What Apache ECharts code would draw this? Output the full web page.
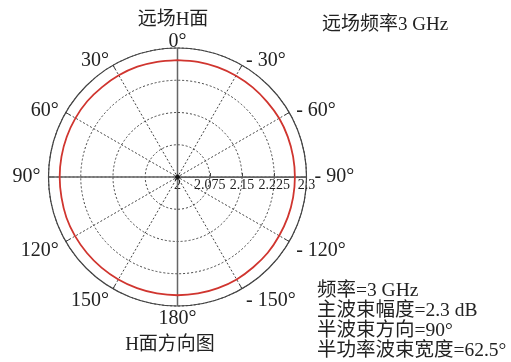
<!DOCTYPE html>
<html>
<head>
<meta charset="utf-8">
<style>
  html, body { margin: 0; padding: 0; background: #fff; }
  #chart { width: 511px; height: 362px; }
</style>
<script src="https://cdn.jsdelivr.net/npm/echarts@6/dist/echarts.min.js"></script>
</head>
<body>
<div id="chart"></div>
<script>
// Pattern angles in degrees (0 = top, positive counter-clockwise) and gain values
const patternAngles = [0, 10, 20, 30, 40, 50, 60, 70, 80, 90, 100, 110, 120, 130, 140, 150, 160, 170, 180,
  -170, -160, -150, -140, -130, -120, -110, -100, -90, -80, -70, -60, -50, -40, -30, -20, -10, 0];
const patternGain = [2.272, 2.272, 2.273, 2.273, 2.273, 2.274, 2.274, 2.274, 2.274, 2.274, 2.274, 2.275, 2.275, 2.275, 2.275, 2.275, 2.275, 2.275, 2.275,
  2.275, 2.275, 2.275, 2.274, 2.274, 2.273, 2.273, 2.273, 2.273, 2.273, 2.273, 2.273, 2.272, 2.272, 2.272, 2.272, 2.272, 2.272];

// Angle tick labels, degrees (0 = top, positive counter-clockwise)
const angleTicks = [0, 30, 60, 90, 120, 150, 180, -150, -120, -90, -60, -30];

// Radial scale
const radiusTicks = ['2', '2.075', '2.15', '2.225', '2.3'];
const radiusMin = 2;
const radiusMax = 2.3;
const radiusStep = 0.075;

// The angle axis has 0 on the right; shift pattern angles so 0° sits at the top
function toAxisAngle(d) {
  return (((d + 90) % 360) + 360) % 360;
}
function angleText(d) {
  return d < 0 ? '- ' + (-d) + '°' : d + '°';
}

const serif = "'Liberation Serif', 'Noto Sans CJK SC', serif";
const textColor = '#222';
const center = [177.5, 177];
const radius = 129;

// Category labels ordered along the axis (counter-clockwise from the right),
// nudged toward the horizontal diameter so they sit beside the rim.
const angleLabelData = [];
for (let k = 0; k < 12; k++) {
  const d = angleTicks.find(t => toAxisAngle(t) === k * 30);
  const axisAng = k * 30;
  const s = Math.sin(axisAng * Math.PI / 180);
  let pad = [0, 0, 0, 0];
  if (s > 0.3) pad = [0, 0, -12, 0];
  else if (s < -0.3) pad = [-5, 0, 0, 0];
  angleLabelData.push({ value: angleText(d), textStyle: { padding: pad } });
}

const chart = echarts.init(document.getElementById('chart'), null, { renderer: 'canvas' });

const patternData = patternAngles.map((a, i) => [patternGain[i], toAxisAngle(a)]);

chart.setOption({
  animation: false,
  backgroundColor: '#fff',
  title: [
    { text: '远场H面', left: 168, top: 6, textAlign: 'center',
      textStyle: { fontFamily: serif, fontSize: 19, fontWeight: 'normal', color: textColor } },
    { text: '远场频率3 GHz', left: 317, top: 11,
      textStyle: { fontFamily: serif, fontSize: 19, fontWeight: 'normal', color: textColor } },
    { text: 'H面方向图', left: 165, top: 331, textAlign: 'center',
      textStyle: { fontFamily: serif, fontSize: 19, fontWeight: 'normal', color: textColor } },
    { text: '频率=3 GHz\n主波束幅度=2.3 dB\n半波束方向=90°\n半功率波束宽度=62.5°', left: 312, top: 276,
      textStyle: { fontFamily: serif, fontSize: 19.5, fontWeight: 'normal', color: textColor, lineHeight: 20 } }
  ],
  polar: [
    { center: center, radius: radius },
    { center: center, radius: radius }
  ],
  angleAxis: [
    {
      polarIndex: 0,
      type: 'value',
      min: 0,
      max: 360,
      interval: 30,
      startAngle: 0,
      clockwise: false,
      axisLine: { show: true, lineStyle: { color: '#444', width: 1.2 } },
      axisTick: { show: true, inside: true, length: 5, lineStyle: { color: '#444', width: 1 } },
      axisLabel: { show: false },
      splitLine: { show: true, lineStyle: { type: [2, 2], color: '#444', width: 1 } }
    },
    {
      polarIndex: 1,
      type: 'category',
      data: angleLabelData,
      boundaryGap: false,
      startAngle: 0,
      clockwise: false,
      axisLine: { show: false },
      axisTick: { show: false },
      splitLine: { show: false },
      axisLabel: {
        interval: 0,
        margin: 8,
        fontFamily: serif,
        fontSize: 20,
        color: textColor
      }
    }
  ],
  radiusAxis: [
    {
      polarIndex: 0,
      type: 'value',
      min: radiusMin,
      max: radiusMax,
      interval: radiusStep,
      axisLine: { show: true, lineStyle: { color: '#555', width: 1.2 } },
      axisTick: { show: true, length: 4, lineStyle: { color: '#444' } },
      axisLabel: {
        margin: -1,
        verticalAlign: 'top',
        fontFamily: serif,
        fontSize: 14,
        color: textColor,
        formatter: (v, i) => radiusTicks[i] !== undefined ? radiusTicks[i] : ''
      },
      splitLine: { show: true, lineStyle: { type: [2, 2], color: '#444', width: 1 } }
    },
    {
      polarIndex: 1,
      type: 'value',
      min: radiusMin,
      max: radiusMax,
      show: false
    }
  ],
  series: [
    {
      type: 'line', coordinateSystem: 'polar', polarIndex: 0, symbol: 'none', silent: true,
      lineStyle: { color: '#666', width: 1.5 },
      data: [[radiusMax, 0], [radiusMax, 180]], z: 3
    },
    {
      type: 'line', coordinateSystem: 'polar', polarIndex: 0, symbol: 'none', silent: true,
      lineStyle: { color: '#666', width: 1.5 },
      data: [[radiusMax, 90], [radiusMax, 270]], z: 3
    },
    {
      type: 'line', coordinateSystem: 'polar', polarIndex: 0, symbol: 'none', smooth: 0.3,
      lineStyle: { color: '#d0352f', width: 1.8 },
      data: patternData, z: 4
    },
    {
      type: 'scatter', coordinateSystem: 'polar', polarIndex: 0, symbolSize: 5,
      itemStyle: { color: '#000' },
      data: [[radiusMin, 0]], z: 5
    }
  ]
});
</script>
</body>
</html>
